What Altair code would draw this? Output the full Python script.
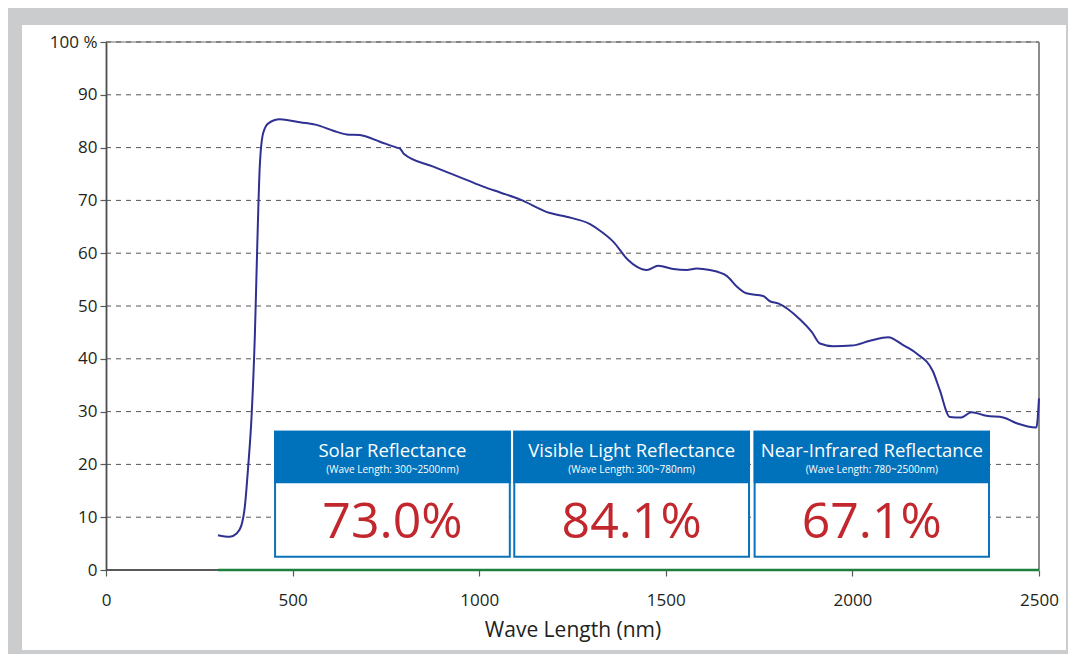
import altair as alt
import pandas as pd

# ---- data ----
wavelength = [300, 332, 350, 363, 372, 381, 390, 399, 405, 412, 421, 435, 466, 488,
              520, 564, 609, 645, 680, 734, 779, 788, 797, 877, 966, 1011, 1056,
              1109, 1190, 1234, 1297, 1323, 1359, 1399, 1422, 1449, 1480, 1520,
              1556, 1583, 1618, 1663, 1690, 1716, 1761, 1779, 1801, 1859, 1891,
              1913, 1949, 1998, 2047, 2096, 2136, 2172, 2216, 2234, 2261, 2292,
              2319, 2359, 2404, 2440, 2493, 2500]
reflectance = [6.6, 6.3, 6.9, 8.5, 12.0, 19.6, 29.0, 44.8, 60.6, 76.4, 82.7, 84.6,
               85.35, 85.2, 84.8, 84.3, 83.2, 82.5, 82.4, 81.1, 80.0, 79.8, 78.9,
               76.4, 73.9, 72.6, 71.5, 70.2, 67.6, 66.9, 65.5, 64.3, 62.2, 58.7,
               57.45, 56.8, 57.6, 57.0, 56.8, 57.1, 56.8, 55.7, 53.7, 52.4, 51.9,
               50.9, 50.5, 47.5, 45.1, 42.9, 42.4, 42.5, 43.4, 44.1, 42.6, 41.0,
               37.6, 34.1, 29.0, 28.9, 29.9, 29.2, 28.9, 27.8, 27.0, 32.5]

x_ticks = [0, 500, 1000, 1500, 2000, 2500]
y_ticks = [0, 10, 20, 30, 40, 50, 60, 70, 80, 90, 100]

box_titles = ["Solar Reflectance", "Visible Light Reflectance", "Near-Infrared Reflectance"]
box_subtitles = ["(Wave Length: 300~2500nm)", "(Wave Length: 300~780nm)", "(Wave Length: 780~2500nm)"]
box_values = ["73.0%", "84.1%", "67.1%"]

# ---- layout (data units) for the annotation boxes ----
box_x0 = [453, 1094, 1738]
box_x1 = [1082, 1723, 2366]
BOX_TOP, BOX_HEAD, BOX_BOTTOM = 26.2, 16.6, 2.5

FONT = "Open Sans"
W, H = 933, 528

xscale = alt.Scale(domain=[0, 2500], nice=False, zero=False)
yscale = alt.Scale(domain=[0, 100], nice=False)

x_axis = alt.Axis(values=x_ticks, format="d", title="Wave Length (nm)", grid=False, domain=False,
                  labelFontSize=17, labelColor="#231f20", labelFont=FONT,
                  tickColor="#58595b", tickSize=6, tickWidth=1.2, labelPadding=16,
                  titleFont=FONT, titleFontSize=21, titleFontWeight="normal",
                  titleColor="#231f20", titlePadding=11, zindex=1, labelFlush=False)
y_axis = alt.Axis(values=y_ticks, title=None, grid=False, domain=True,
                  domainColor="#4d4d4f", domainWidth=1.8,
                  labelFontSize=17, labelColor="#231f20", labelFont=FONT,
                  tickColor="#58595b", tickSize=6, tickWidth=1.2, labelPadding=3,
                  labelExpr="datum.value == 100 ? '100 %' : datum.label + '\u2007\u2007'",
                  zindex=1)

curve_df = pd.DataFrame({"wl": wavelength, "r": reflectance})
grid_df = pd.DataFrame({"y": [t for t in y_ticks if 0 < t < 100]})
box_df = pd.DataFrame({
    "x0": box_x0, "x1": box_x1,
    "xc": [(a + b) / 2 for a, b in zip(box_x0, box_x1)],
    "title": box_titles, "sub": box_subtitles, "val": box_values,
})
one = pd.DataFrame({"k": [0]})

panel = alt.Chart(one).mark_rect(color="white").encode(
    x=alt.value(-84), x2=alt.value(960), y=alt.value(-17), y2=alt.value(608))

grid = alt.Chart(grid_df).mark_rule(color="#555555", strokeWidth=1, strokeDash=[5, 5]).encode(
    y=alt.Y("y:Q", scale=yscale, axis=y_axis),
    x=alt.datum(0, scale=xscale, axis=x_axis), x2=alt.datum(2500))

top_line = alt.Chart(one).mark_rule(color="#9a9b9d", strokeWidth=1.5).encode(
    y=alt.datum(100), x=alt.datum(0), x2=alt.datum(2500))
top_dash = alt.Chart(one).mark_rule(color="#555555", strokeWidth=1, strokeDash=[5, 5]).encode(
    y=alt.datum(100), x=alt.datum(0), x2=alt.datum(2500))
right_line = alt.Chart(one).mark_rule(color="#8a8b8d", strokeWidth=2).encode(
    x=alt.datum(2500), y=alt.datum(0), y2=alt.datum(100))

base_gray = alt.Chart(one).mark_rule(color="#58595b", strokeWidth=2).encode(
    y=alt.datum(0), x=alt.datum(0), x2=alt.datum(300))
base_green = alt.Chart(one).mark_rule(color="#1e7f3c", strokeWidth=2.5).encode(
    y=alt.datum(0), x=alt.datum(300), x2=alt.datum(2500))

curve = alt.Chart(curve_df).mark_line(color="#2e3192", strokeWidth=2, interpolate="monotone").encode(
    x=alt.X("wl:Q", scale=xscale, axis=x_axis),
    y=alt.Y("r:Q", scale=yscale, axis=y_axis))

box_body = alt.Chart(box_df).mark_rect(fill="white", stroke="#0b72ba", strokeWidth=2).encode(
    x="x0:Q", x2="x1:Q", y=alt.datum(BOX_BOTTOM), y2=alt.datum(BOX_TOP))
box_head = alt.Chart(box_df).mark_rect(fill="#0071bb", stroke="#0071bb", strokeWidth=2).encode(
    x="x0:Q", x2="x1:Q", y=alt.datum(BOX_HEAD), y2=alt.datum(BOX_TOP))

t_title = alt.Chart(box_df).mark_text(font=FONT, fontSize=18.5, color="white",
                                      baseline="alphabetic", align="center").encode(
    x="xc:Q", y=alt.datum(21.4), text="title:N")
t_sub = alt.Chart(box_df).mark_text(font=FONT, fontSize=10, color="white",
                                    baseline="alphabetic", align="center").encode(
    x="xc:Q", y=alt.datum(18.4), text="sub:N")
t_val = alt.Chart(box_df).mark_text(font=FONT, fontSize=50, color="#c1272d",
                                    baseline="alphabetic", align="center").encode(
    x="xc:Q", y=alt.datum(6.1), text="val:N")

chart = alt.layer(
    panel, grid, top_line, top_dash, right_line, base_gray, base_green, curve,
    box_body, box_head, t_title, t_sub, t_val
).properties(
    width=W, height=H,
    autosize=alt.AutoSizeParams(type="none"),
    padding={"left": 98, "top": 34, "right": 29, "bottom": 84},
    background="#cbcccd",
).configure_view(stroke=None)

chart.save("out.html", embed_options={"renderer": "svg", "actions": False})
